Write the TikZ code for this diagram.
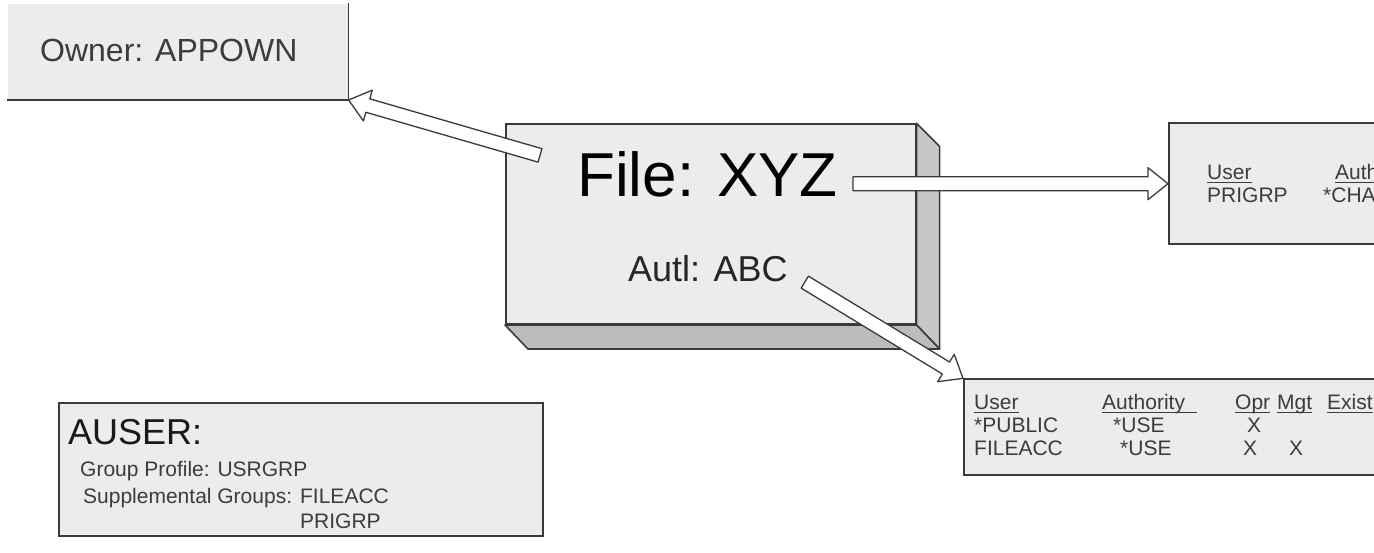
\documentclass[tikz,border=0pt]{standalone}
\usepackage{fontspec}
\setmainfont{Liberation Sans}
\usetikzlibrary{calc}

\definecolor{boxline}{HTML}{3A3A3A}
\definecolor{boxfill}{HTML}{ECECEC}
\definecolor{sidefill}{HTML}{C6C6C6}
\definecolor{tabtext}{HTML}{3C3C3C}

\newcommand{\tblfont}{\fontsize{21}{23}\selectfont}
% column head, underlined close to the baseline
\newcommand{\colhead}[1]{\leavevmode\setbox0\hbox{#1}\dp0=0pt\vtop{\box0\kern2.5pt\hrule height 0.9pt}}

\tikzset{
  panel/.style={draw=boxline, line width=1.6pt, fill=boxfill, inner sep=0pt, anchor=south west},
  txt/.style={anchor=base west, inner sep=0pt, text=tabtext},
  fatline/.style={draw=boxline, fill=white, line width=1.3pt, line join=round},
}

% hollow block arrow from #1 to #2
\newcommand{\fatarrow}[2]{%
  \coordinate (fa-s) at (#1);
  \coordinate (fa-e) at (#2);
  \coordinate (fa-h) at ($(fa-e)!20pt!(fa-s)$);
  \draw [fatline] ($(fa-s)!7pt!90:(fa-e)$) -- ($(fa-h)!7pt!90:(fa-e)$)
    -- ($(fa-h)!16pt!90:(fa-e)$) -- (fa-e) -- ($(fa-h)!16pt!-90:(fa-e)$)
    -- ($(fa-h)!7pt!-90:(fa-e)$) -- ($(fa-s)!7pt!-90:(fa-e)$) -- cycle;
}

\begin{document}
\begin{tikzpicture}[x=1pt,y=1pt]
\useasboundingbox (0,0) rectangle (1374,552);
\clip (0,0) rectangle (1374,552);

% owner
\node (owner) [panel, draw=none, minimum width=340pt, minimum height=95pt] at (7,452) {};
\draw [boxline, line width=1.6pt] (owner.north east) -- (owner.south east) -- (owner.south west);
\node (ownertext) [txt, font=\fontsize{32}{36}\selectfont] at (40,490) {Owner: APPOWN};

% file object
\node (file) [panel, minimum width=410pt, minimum height=200pt] at (505,227) {};
\filldraw [draw=boxline, fill=sidefill, line width=1.6pt, line join=round]
  (file.north east) -- ++(23,-23) -- ([shift={(23,-24)}]file.south east) -- (file.south east) -- cycle;
\filldraw [draw=boxline, fill=sidefill!95!black, line width=1.6pt, line join=round]
  (file.south west) -- ++(23,-24) -- ([shift={(23,-24)}]file.south east) -- (file.south east) -- cycle;
\node (filetitle) [txt, text=black, font=\fontsize{62}{66}\selectfont] at (577,355) {File: XYZ};
\node (autl) [txt, text=black!85, font=\fontsize{36}{40}\selectfont] at (628,270) {Autl: ABC};

% private authority
\node (perm) [panel, minimum width=240pt, minimum height=121pt] at (1168,307) {};
\node (permtab) [txt, font=\tblfont] at (1207,372) {\begin{tabular}[t]{@{}p{128pt}@{}l@{}}
\colhead{User} & \colhead{Authority\ } \\
{PRIGRP} & \hspace*{-12pt}{*}CHANGE
\end{tabular}};

% authorization list
\node (acl) [panel, minimum width=440pt, minimum height=96pt] at (963,76) {};
\node (acltab) [txt, font=\tblfont] at (974,142) {\begin{tabular}[t]{@{}p{128pt}@{}p{133pt}@{}p{42pt}@{}p{50pt}@{}l@{}}
\colhead{User} & \colhead{Authority\ \ } & \colhead{Opr} & \colhead{Mgt} & \colhead{Exist} \\
{*}PUBLIC & \hspace*{11pt}{*}USE & \hspace*{12pt}X & & \\
{FILEACC} & \hspace*{18pt}{*}USE & \hspace*{8pt}X & \hspace*{12pt}X &
\end{tabular}};

% user profile
\node (auser) [panel, minimum width=484pt, minimum height=133pt] at (58,15) {};
\node (ausertitle) [txt, text=black!90, font=\fontsize{36}{40}\selectfont] at (68,107) {AUSER:};
\node (ausertab) [txt, font=\fontsize{21}{26}\selectfont] at (80,75) {\begin{tabular}[t]{@{}p{220pt}@{}l@{}}
\multicolumn{2}{@{}l@{}}{Group Profile: USRGRP} \\
\hspace*{3pt}Supplemental Groups: & FILEACC \\
 & PRIGRP
\end{tabular}};

% links
\coordinate (ownerlink) at ([shift={(35,-32)}]file.north west);
\coordinate (titlelink) at ($(filetitle.east |- perm.west)+(15,0)$);
\coordinate (autllink) at ($(autl.east)+(17,-13)$);
\fatarrow{ownerlink}{owner.south east}
\fatarrow{titlelink}{perm.west}
\fatarrow{autllink}{acl.north west}
\end{tikzpicture}
\end{document}
